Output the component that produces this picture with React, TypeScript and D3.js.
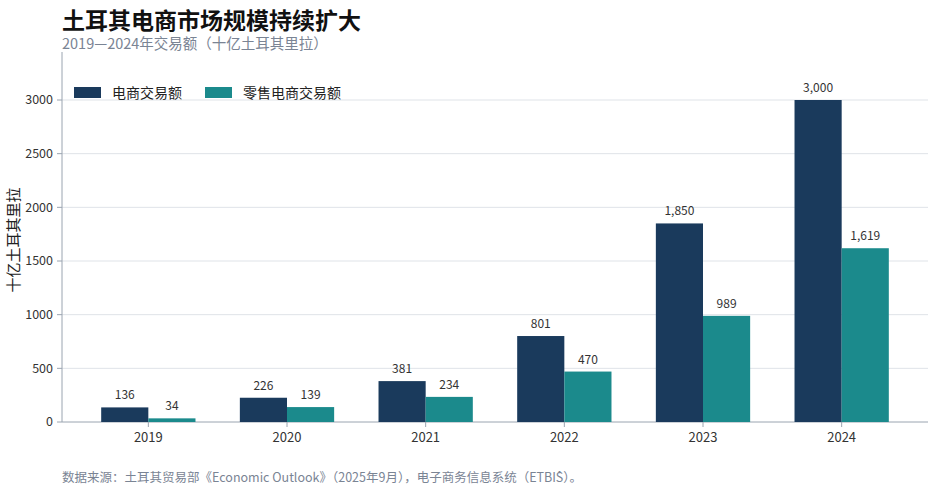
import * as d3 from 'd3';

const years = ['2019', '2020', '2021', '2022', '2023', '2024'];
const totalValues = [136, 226, 381, 801, 1850, 3000];
const retailValues = [34, 139, 234, 470, 989, 1619];
const seriesNames = ['电商交易额', '零售电商交易额'];
const yTicks = [0, 500, 1000, 1500, 2000, 2500, 3000];

const W = 937;
const H = 491;
const FONT = '"Noto Sans CJK SC", "Noto Sans", sans-serif';
const colors = ['#1a3a5c', '#1b8a8c'];

export default function App() {
    const x = d3.scaleBand().domain(years).range([79, 911]).paddingInner(0.32).paddingOuter(0.16);
    const y = d3.scaleLinear().domain([0, 3000]).range([422, 100]);
    const bw = x.bandwidth() / 2;
    const fmt = d3.format(',');
    const series = [totalValues, retailValues];

    return (
        <svg width={W} height={H} style={{ position: 'absolute', left: 0, top: 0, fontFamily: FONT }}>
            <rect width={W} height={H} fill="#fff" />
            <text x={62} y={29} fontSize={23} fontWeight={700} fill="#111">土耳其电商市场规模持续扩大</text>
            <text x={62} y={49} fontSize={14.5} fill="#7a8494">2019—2024年交易额（十亿土耳其里拉）</text>

            {yTicks.map((t) => (
                <g key={t}>
                    {t > 0 && <line x1={62} x2={928} y1={y(t)} y2={y(t)} stroke="#dfe3e8" />}
                    <line x1={57} x2={62} y1={y(t)} y2={y(t)} stroke="#9aa4b0" />
                    <text x={53} y={y(t)} dy="0.35em" textAnchor="end" fontSize={12.5} fill="#333">{t}</text>
                </g>
            ))}
            <line x1={62} x2={62} y1={52} y2={422} stroke="#9aa4b0" />
            <line x1={62} x2={928} y1={422} y2={422} stroke="#9aa4b0" />
            <text transform="translate(19,240) rotate(-90)" textAnchor="middle" fontSize={15} fill="#222">十亿土耳其里拉</text>

            {years.map((yr) => (
                <g key={yr}>
                    <line x1={x(yr)! + bw} x2={x(yr)! + bw} y1={422} y2={427} stroke="#9aa4b0" />
                    <text x={x(yr)! + bw} y={442} textAnchor="middle" fontSize={13} fill="#333">{yr}</text>
                </g>
            ))}

            {series.map((vals, si) =>
                vals.map((v, i) => {
                    const x0 = x(years[i])! + si * bw;
                    return (
                        <g key={`${si}-${i}`}>
                            <rect x={x0} y={y(v)} width={bw} height={422 - y(v)} fill={colors[si]} />
                            <text x={x0 + bw / 2} y={y(v) - 8} textAnchor="middle" fontSize={12} fill="#333">{fmt(v)}</text>
                        </g>
                    );
                })
            )}

            {seriesNames.map((n, i) => (
                <g key={n} transform={`translate(${74 + i * 131},87)`}>
                    <rect width={27} height={11} fill={colors[i]} />
                    <text x={38} y={6} dy="0.35em" fontSize={14} fill="#222">{n}</text>
                </g>
            ))}

            <text x={62} y={482} fontSize={12.5} fill="#7a8494">数据来源：土耳其贸易部《Economic Outlook》（2025年9月），电子商务信息系统（ETBİS）。</text>
        </svg>
    );
}
